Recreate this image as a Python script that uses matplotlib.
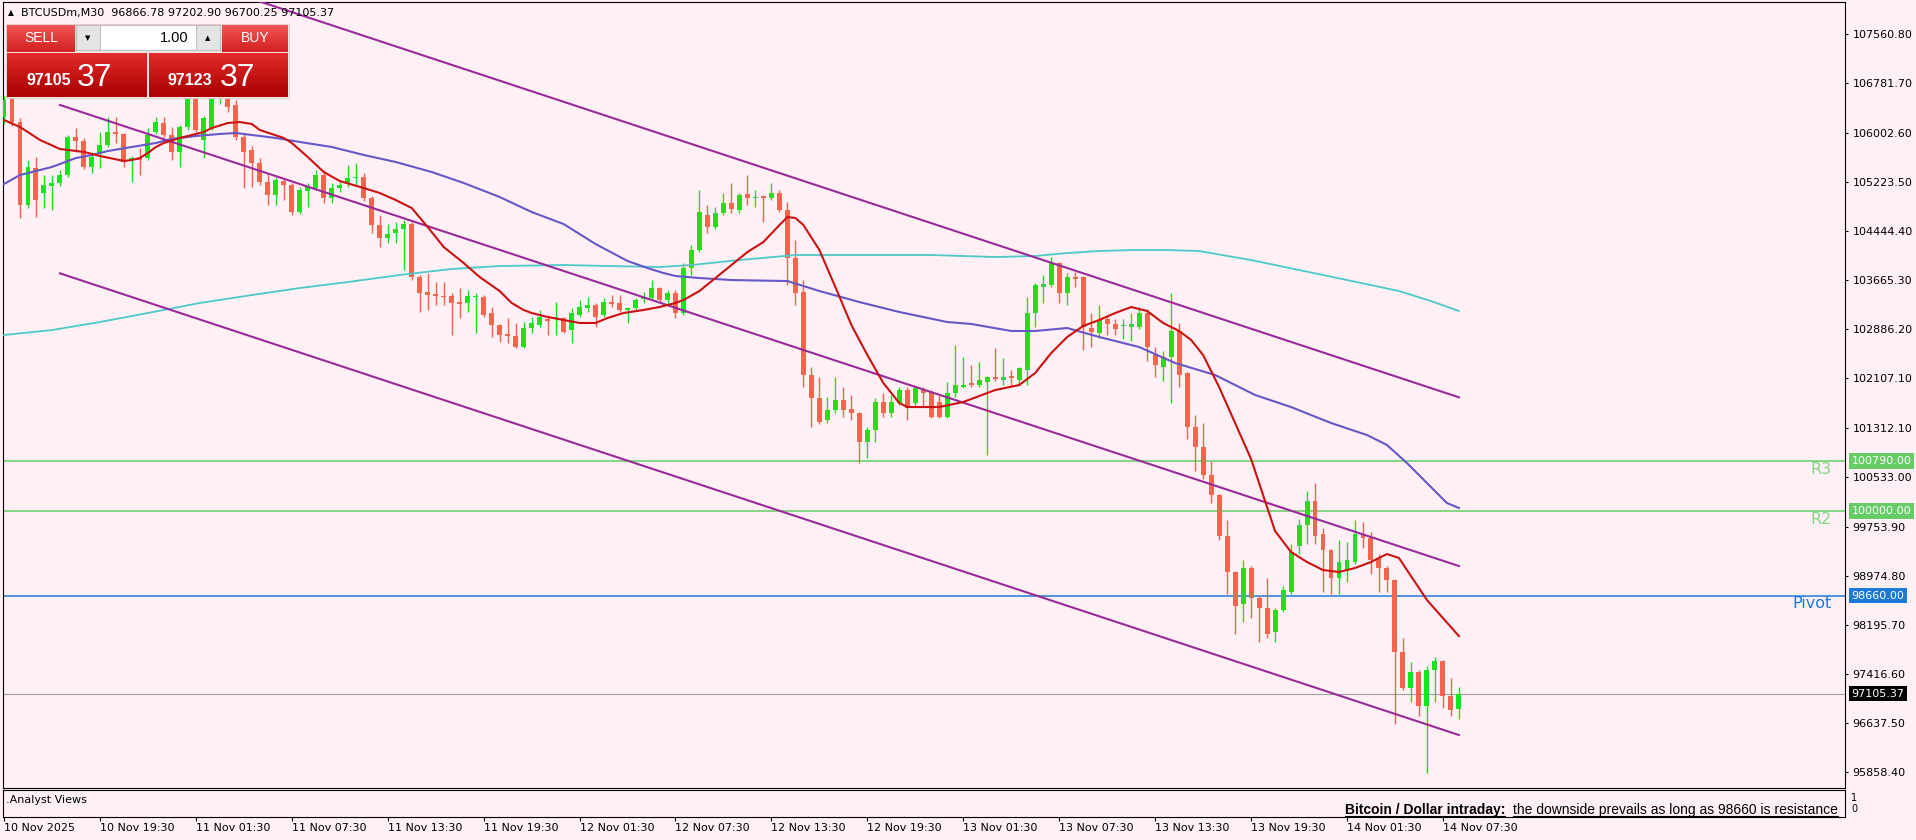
import numpy as np
import matplotlib
matplotlib.use('Agg')
import matplotlib.pyplot as plt
from matplotlib.patches import Rectangle
from matplotlib.colors import to_rgb

plt.rcParams['font.family'] = ['DejaVu Sans']

# header / trade panel
symbol_line = 'BTCUSDm,M30  96866.78 97202.90 96700.25 97105.37'
bid_main, bid_pips = '97105', '37'
ask_main, ask_pips = '97123', '37'
lot_size = '1.00'

# x axis: one label every 12 bars (6 hours of M30)
time_labels = ['10 Nov 2025', '10 Nov 19:30', '11 Nov 01:30', '11 Nov 07:30', '11 Nov 13:30',
               '11 Nov 19:30', '12 Nov 01:30', '12 Nov 07:30', '12 Nov 13:30', '12 Nov 19:30',
               '13 Nov 01:30', '13 Nov 07:30', '13 Nov 13:30', '13 Nov 19:30', '14 Nov 01:30',
               '14 Nov 07:30']

# right price scale
price_labels = [107560.80, 106781.70, 106002.60, 105223.50, 104444.40, 103665.30, 102886.20,
                102107.10, 101312.10, 100533.00, 99753.90, 98974.80, 98195.70, 97416.60,
                96637.50, 95858.40]

# M30 candles
opens = [106249, 106535, 106170, 104854, 105441, 105044, 105155, 105203, 105329, 105932,
         105869, 105457, 105679, 105806, 106012, 105980, 105567, 105599, 105599, 106012,
         106154, 105964, 105695, 106091, 106677, 105885, 106075, 106551, 106582, 106440,
         105932, 105726, 105520, 105219, 105012, 105235, 105171, 104743, 105076, 105123,
         105329, 104965, 105123, 105203, 105282, 105298, 104965, 104536, 104330, 104410,
         104473, 104552, 103712, 103474, 103442, 103410, 103410, 103315, 103300, 103395,
         103395, 103141, 102951, 102808, 102776, 102602, 102903, 102951, 103046, 103046,
         103062, 102871, 103109, 103220, 103268, 103109, 103315, 103300, 103189, 103220,
         103363, 103379, 103537, 103347, 103458, 103141, 103854, 104140, 104695, 104505,
         104727, 104885, 104774, 105028, 104965, 104997, 104965, 105044, 104774, 104013,
         103474, 102158, 101793, 101444, 101603, 101761, 101619, 101555, 101095, 101285,
         101730, 101555, 101714, 101920, 101714, 101920, 101888, 101730, 101492, 101873,
         101967, 102031, 101999, 102047, 102126, 102078, 102142, 102078, 102237, 103141,
         103553, 103585, 103934, 103458, 103712, 103712, 102903, 102824, 103046, 102967,
         102935, 102919, 102919, 103141, 102475, 102285, 102443, 102856, 102190, 101333,
         101016, 100572, 100255, 99605, 99034, 98526, 99097, 98621, 98463, 98082,
         98431, 98716, 99446, 99779, 100160, 99636, 99383, 98939, 99065, 99192,
         99636, 99573, 99256, 99097, 98907, 97765, 97194, 97448, 96908, 97479,
         97622, 97067, 96866.78]
highs = [106582, 106582, 106233, 105567, 105615, 105329, 105329, 105409, 105964, 106075,
         105917, 105695, 106012, 106249, 106249, 105996, 105631, 105758, 106075, 106249,
         106249, 106091, 106122, 106757, 106757, 106260, 106677, 106836, 106757, 106519,
         105996, 105790, 105599, 105361, 105298, 105282, 105203, 105139, 105203, 105409,
         105409, 105203, 105219, 105488, 105520, 105361, 104997, 104695, 104552, 104584,
         104616, 104584, 103744, 103775, 103632, 103632, 103458, 103537, 103506, 103458,
         103426, 103236, 102965, 103062, 102983, 102998, 103078, 103189, 103109, 103315,
         103078, 103220, 103347, 103395, 103300, 103379, 103426, 103426, 103236, 103379,
         103474, 103664, 103553, 103506, 103506, 103934, 104219, 105092, 104854, 104822,
         105044, 105203, 105044, 105329, 105092, 105012, 105203, 105092, 104901, 104299,
         103664, 102285, 102126, 101809, 102126, 101967, 101841, 101570, 101333, 101793,
         101873, 101841, 101967, 101967, 101967, 101967, 101920, 101841, 102047, 102634,
         102443, 102317, 102364, 102140, 102586, 102428, 102237, 102285, 103395, 103617,
         103744, 104029, 103950, 103775, 103791, 103725, 103141, 103268, 103109, 103046,
         103046, 103141, 103236, 103204, 102602, 102539, 103458, 102983, 102205, 101523,
         101397, 100794, 100270, 99858, 99050, 99224, 99129, 98653, 98939, 98463,
         98812, 99478, 99874, 100318, 100445, 99731, 99395, 99541, 99509, 99858,
         99826, 99668, 99319, 99129, 98920, 97987, 97606, 97479, 97543, 97686,
         97638, 97352, 97202.90]
lows = [106138, 106107, 104648, 104806, 104663, 104806, 104774, 105155, 105298, 105695,
        105425, 105361, 105441, 105774, 105837, 105457, 105219, 105329, 105567, 105980,
        105932, 105567, 105457, 106043, 106012, 105599, 106043, 106455, 106329, 105885,
        105123, 105139, 105171, 104854, 104854, 104933, 104695, 104711, 104822, 105092,
        104885, 104885, 105060, 105139, 105171, 104917, 104410, 104188, 104251, 104251,
        103823, 103664, 103157, 103189, 103268, 103268, 102792, 103062, 103157, 102824,
        103078, 102761, 102681, 102665, 102586, 102586, 102824, 102919, 102792, 102792,
        102824, 102665, 103078, 103157, 102919, 103078, 103236, 103157, 102983, 103189,
        103300, 103347, 103300, 103300, 103062, 103109, 103744, 104108, 104410, 104473,
        104695, 104727, 104727, 104854, 104822, 104584, 104933, 104743, 103585, 103268,
        101967, 101333, 101381, 101397, 101555, 101492, 101444, 100762, 100841, 101095,
        101492, 101492, 101682, 101444, 101650, 101650, 101476, 101476, 101476, 101809,
        101950, 101967, 101967, 100889, 102063, 101999, 101999, 101999, 101999, 102919,
        103300, 103553, 103300, 103268, 103553, 102554, 102602, 102745, 102792, 102792,
        102729, 102697, 102888, 102380, 102126, 102063, 101714, 101967, 101143, 100635,
        100508, 100128, 99541, 98685, 98051, 98241, 98304, 97924, 97987, 97924,
        98399, 98685, 99319, 99478, 99478, 98716, 98685, 98685, 98875, 99161,
        99414, 99002, 98716, 98716, 96623, 97162, 96972, 96750, 95846, 96972,
        96877, 96750, 96700.25]
closes = [106519, 106170, 104854, 105457, 104933, 105171, 105203, 105329, 105932, 105869,
          105457, 105615, 105806, 106012, 105980, 105536, 105599, 105567, 105964, 106170,
          105964, 105695, 106091, 106677, 106043, 106233, 106551, 106646, 106408, 105932,
          105695, 105520, 105219, 105012, 105250, 105171, 104743, 105092, 105139, 105329,
          104965, 105123, 105171, 105282, 105298, 104965, 104536, 104330, 104394, 104473,
          104552, 103712, 103458, 103426, 103410, 103395, 103300, 103284, 103410, 103405,
          103109, 102951, 102792, 102776, 102602, 102903, 102983, 103078, 103014, 103078,
          102840, 103141, 103236, 103268, 103078, 103315, 103284, 103189, 103220, 103347,
          103395, 103537, 103347, 103458, 103141, 103854, 104140, 104743, 104505, 104727,
          104885, 104790, 105012, 104965, 104981, 104965, 105044, 104774, 104013, 103458,
          102158, 101793, 101412, 101603, 101761, 101603, 101555, 101095, 101285, 101730,
          101555, 101730, 101920, 101634, 101952, 101873, 101492, 101492, 101873, 101999,
          101999, 101999, 102078, 102126, 102095, 102126, 102110, 102269, 103141, 103585,
          103601, 103934, 103458, 103712, 103680, 102919, 102840, 103030, 102967, 102888,
          102945, 102967, 103141, 102602, 102317, 102443, 102856, 102158, 101333, 101016,
          100572, 100255, 99605, 99034, 98495, 99097, 98621, 98463, 98051, 98431,
          98748, 99351, 99779, 100160, 99605, 99383, 98939, 99192, 99224, 99636,
          99573, 99224, 99097, 98907, 97765, 97194, 97448, 96908, 97479, 97622,
          97067, 96845, 97105.37]

# moving averages at these bars
fast_bars = [0, 2, 4.5, 7, 10, 12, 15, 16, 17, 18, 19, 20, 22, 25, 26, 28, 29.5, 31, 32, 35,
             36, 38, 40, 42, 45, 47, 49, 51, 53, 55, 57.5, 59.5, 62, 63.5, 65, 66, 68, 70, 72, 74,
             75.5, 77.5, 80, 82, 84, 85, 87, 89, 91, 93, 95, 97, 98, 99, 100, 102, 104, 106, 108, 110,
             112, 113, 117, 120, 124, 127, 129, 131, 133, 135, 137, 139, 141, 143, 145, 147, 148.5,
             150, 152, 154, 156, 157.5, 159, 161, 163, 165, 167, 169, 171, 173, 174.5, 176.5, 178,
             180, 182]
fast_ma = [106202, 106091, 105885, 105742, 105695, 105631, 105552, 105567, 105599, 105679,
           105774, 105837, 105917, 106012, 106075, 106154, 106170, 106138, 106043, 105917,
           105837, 105615, 105377, 105234, 105123, 105044, 104933, 104806, 104505, 104188,
           103934, 103712, 103490, 103300, 103189, 103141, 103078, 103030, 102983, 102983,
           103062, 103141, 103189, 103236, 103300, 103347, 103490, 103696, 103902, 104108,
           104267, 104536, 104663, 104648, 104536, 104140, 103553, 102951, 102475, 102031,
           101714, 101650, 101650, 101730, 101920, 101999, 102190, 102507, 102761, 102935,
           103030, 103141, 103236, 103173, 102983, 102856, 102713, 102475, 101967, 101397,
           100826, 100255, 99684, 99351, 99192, 99065, 99034, 99097, 99192, 99319,
           99256, 98875, 98590, 98304, 98018]
mid_bars = [0, 2, 6, 9, 11, 13, 16, 19, 21, 24, 27, 29, 31, 34, 37, 41, 45, 49, 53.5, 57.5,
            62, 66, 70, 74, 78, 80.5, 82.5, 84, 87, 91, 98, 102, 107, 112, 118, 121, 126, 129, 133,
            137, 142, 146.5, 151.5, 156.5, 161, 166, 170.5, 173, 175.5, 178, 180.5, 182]
mid_ma = [105187, 105329, 105457, 105599, 105647, 105710, 105774, 105837, 105901, 105948,
          105980, 105996, 105964, 105917, 105853, 105774, 105647, 105536, 105377, 105203,
          104981, 104743, 104552, 104235, 103966, 103854, 103775, 103728, 103696, 103664,
          103648, 103490, 103315, 103157, 102998, 102967, 102856, 102856, 102903, 102761,
          102602, 102348, 102158, 101841, 101650, 101397, 101206, 101048, 100762, 100445,
          100128, 100049]
slow_bars = [0, 6, 12, 18, 24.5, 31, 37, 43, 49.5, 56, 62, 70, 82, 86, 92, 99, 116, 124, 129,
             133, 137, 141, 145.5, 149.5, 156, 162, 168, 174.5, 178.5, 182]
slow_ma = [102792, 102871, 102998, 103141, 103300, 103426, 103537, 103632, 103744, 103839,
           103886, 103902, 103870, 103902, 103981, 104061, 104061, 104029, 104045, 104092,
           104124, 104140, 104140, 104124, 103981, 103823, 103664, 103490, 103331, 103173]

# falling channel (start bar / end bar, prices)
channel_bars = [7, 182]
channel_upper = [109127, 101804]
channel_mid = [106440, 99129]
channel_lower = [103770, 96449]

# pivot levels
level_names = ['R3', 'R2', 'Pivot']
level_values = [100790.00, 100000.00, 98660.00]
last_price = 97105.37

note_title = 'Bitcoin / Dollar intraday:'
note_text = 'the downside prevails as long as 98660 is resistance'

bg = '#fff0f5'
bull = '#1fe01f'
bear = '#f2654f'
green_lvl = '#66cc66'
blue_lvl = '#1e78d7'
purple = '#992a99'

W, H = 1916, 840
fig = plt.figure(figsize=(W / 100, H / 100), dpi=100, facecolor=bg)


def rect(x0, y0, x1, y1):
    # pixel box measured from top left -> figure fractions
    return [x0 / W, 1 - y1 / H, (x1 - x0) / W, (y1 - y0) / H]


bar_px = 7.994
xlim = (-1 / bar_px, 1841 / bar_px)

ax = fig.add_axes(rect(3, 2, 1845, 788))
ax.set_facecolor(bg)

# candles
o, h, l, c = map(np.array, (opens, highs, lows, closes))
idx = np.arange(len(c))
col = np.where(c >= o, bull, bear)
ax.vlines(idx, l, h, colors=col, lw=1, zorder=3)
ax.bar(idx, np.maximum(np.abs(c - o), 14), bottom=np.minimum(o, c), width=0.62,
       color=col, lw=0, zorder=4)

# averages and channel
ax.plot(slow_bars, slow_ma, color='#4cc9c9', lw=1.3, zorder=5)
ax.plot(mid_bars, mid_ma, color='#6558c8', lw=1.5, zorder=5)
ax.plot(fast_bars, fast_ma, color='#cc1111', lw=1.5, zorder=6)
for ch in (channel_upper, channel_mid, channel_lower):
    ax.plot(channel_bars, ch, color=purple, lw=1.5, zorder=5)

# levels
yx = ax.get_yaxis_transform()
lvl_colors = [green_lvl, green_lvl, blue_lvl]
name_colors = ['#88d488', '#88d488', blue_lvl]
for name, lv, lc, nc in zip(level_names, level_values, lvl_colors, name_colors):
    ax.axhline(lv, color=lc, lw=1.1, zorder=2)
    ax.text(0.9929, lv - 12, name, transform=yx, ha='right', va='top', color=nc, fontsize=11.5)
    ax.text(1.0036, lv, '%.2f' % lv, transform=yx, ha='left', va='center', color='white',
            fontsize=8, zorder=10, bbox=dict(boxstyle='square,pad=0.25', fc=lc, ec='none'))
ax.axhline(last_price, color='#a0a0a0', lw=0.8, zorder=2)
ax.text(1.0036, last_price, '%.2f' % last_price, transform=yx, ha='left', va='center',
        color='white', fontsize=8, zorder=10, bbox=dict(boxstyle='square,pad=0.25', fc='black', ec='none'))

ax.set_xlim(*xlim)
ax.set_ylim(95608.6, 108073.0)
ax.yaxis.tick_right()
ax.set_yticks(price_labels)
ax.set_yticklabels(['%.2f' % p for p in price_labels])
ax.tick_params(axis='y', direction='out', length=2.5, width=0.8, pad=3, labelsize=8)
ax.set_xticks([])
for s in ax.spines.values():
    s.set_linewidth(0.8)

# indicator sub window with the time axis
ax2 = fig.add_axes(rect(3, 790, 1845, 817))
ax2.set_facecolor(bg)
ax2.set_xlim(*xlim)
ax2.set_ylim(0, 1)
ax2.set_yticks([])
ax2.set_xticks(list(range(0, 12 * len(time_labels), 12)))
ax2.set_xticklabels(time_labels, ha='left', fontsize=8)
ax2.tick_params(axis='x', direction='out', length=3, width=0.8, pad=1.5)
for s in ax2.spines.values():
    s.set_linewidth(0.8)

# overlay in pixel coordinates for header, trade panel and notes
ov = fig.add_axes([0, 0, 1, 1])
ov.set_axis_off()
ov.patch.set_alpha(0)
ov.set_autoscale_on(False)
ov.set_xlim(0, W)
ov.set_ylim(H, 0)


def grad(x0, y0, x1, y1, top, bottom):
    t = np.linspace(0, 1, 50)[:, None, None]
    img = (1 - t) * np.array(to_rgb(top)) + t * np.array(to_rgb(bottom))
    ov.imshow(img, extent=(x0, x1, y1, y0), aspect='auto', interpolation='bilinear', zorder=20)


ov.text(11, 13, '\u25b2', ha='center', va='center', fontsize=5.5, zorder=22)
ov.text(21, 13, symbol_line, ha='left', va='center', fontsize=8, zorder=22)

narrow = ['Liberation Sans Narrow', 'Liberation Sans', 'DejaVu Sans']
sans = ['Liberation Sans', 'DejaVu Sans']
ov.add_patch(Rectangle((6, 24), 283, 74, fc='#f6e4e4', ec='#e8c8c8', lw=0.6, zorder=19))
grad(7, 25, 75, 52, '#f25656', '#d32020')
grad(222, 25, 288, 52, '#f25656', '#d32020')
ov.add_patch(Rectangle((76, 25), 144, 25, fc='white', ec='#c0c0c0', lw=0.8, zorder=20))
ov.add_patch(Rectangle((76, 25), 24, 25, fc='#e4e4e4', ec='#c0c0c0', lw=0.8, zorder=20))
ov.add_patch(Rectangle((196, 25), 24, 25, fc='#e4e4e4', ec='#c0c0c0', lw=0.8, zorder=20))
grad(7, 53, 147, 97, '#e32b2b', '#a90000')
grad(149, 53, 288, 97, '#e32b2b', '#a90000')

ov.text(41, 38.5, 'SELL', ha='center', va='center', color='white', fontsize=10, family=narrow, zorder=22)
ov.text(255, 38.5, 'BUY', ha='center', va='center', color='white', fontsize=10, family=narrow, zorder=22)
ov.text(88, 38, '\u25bc', ha='center', va='center', fontsize=5, zorder=22)
ov.text(208, 38, '\u25b2', ha='center', va='center', fontsize=5, zorder=22)
ov.text(189, 38.5, lot_size, ha='right', va='center', fontsize=10.5, family=sans, zorder=22)
ov.text(27, 85, bid_main, ha='left', va='baseline', color='white', fontsize=11.5,
        fontweight='bold', family=sans, zorder=22)
ov.text(77, 86, bid_pips, ha='left', va='baseline', color='white', fontsize=23, family=sans, zorder=22)
ov.text(168, 85, ask_main, ha='left', va='baseline', color='white', fontsize=11.5,
        fontweight='bold', family=sans, zorder=22)
ov.text(220, 86, ask_pips, ha='left', va='baseline', color='white', fontsize=23, family=sans, zorder=22)

# sub window texts
ov.text(6, 800, '.Analyst Views', ha='left', va='center', fontsize=8)
ov.text(1851, 798, '1', ha='left', va='center', fontsize=7)
ov.text(1851, 809, '0', ha='left', va='center', fontsize=7)

r = fig.canvas.get_renderer()
t_note = ov.text(1838, 814, note_text, ha='right', va='baseline', fontsize=10, family=sans)
bb = t_note.get_window_extent(r)
t_title = ov.text(bb.x0 - 8, 814, note_title, ha='right', va='baseline', fontsize=10,
                  fontweight='bold', family=sans)
bb2 = t_title.get_window_extent(r)
for b in (bb, bb2):
    ov.plot([b.x0, b.x1], [815.5, 815.5], color='black', lw=0.8)

fig.savefig('out.png', dpi=100, facecolor=fig.get_facecolor())
